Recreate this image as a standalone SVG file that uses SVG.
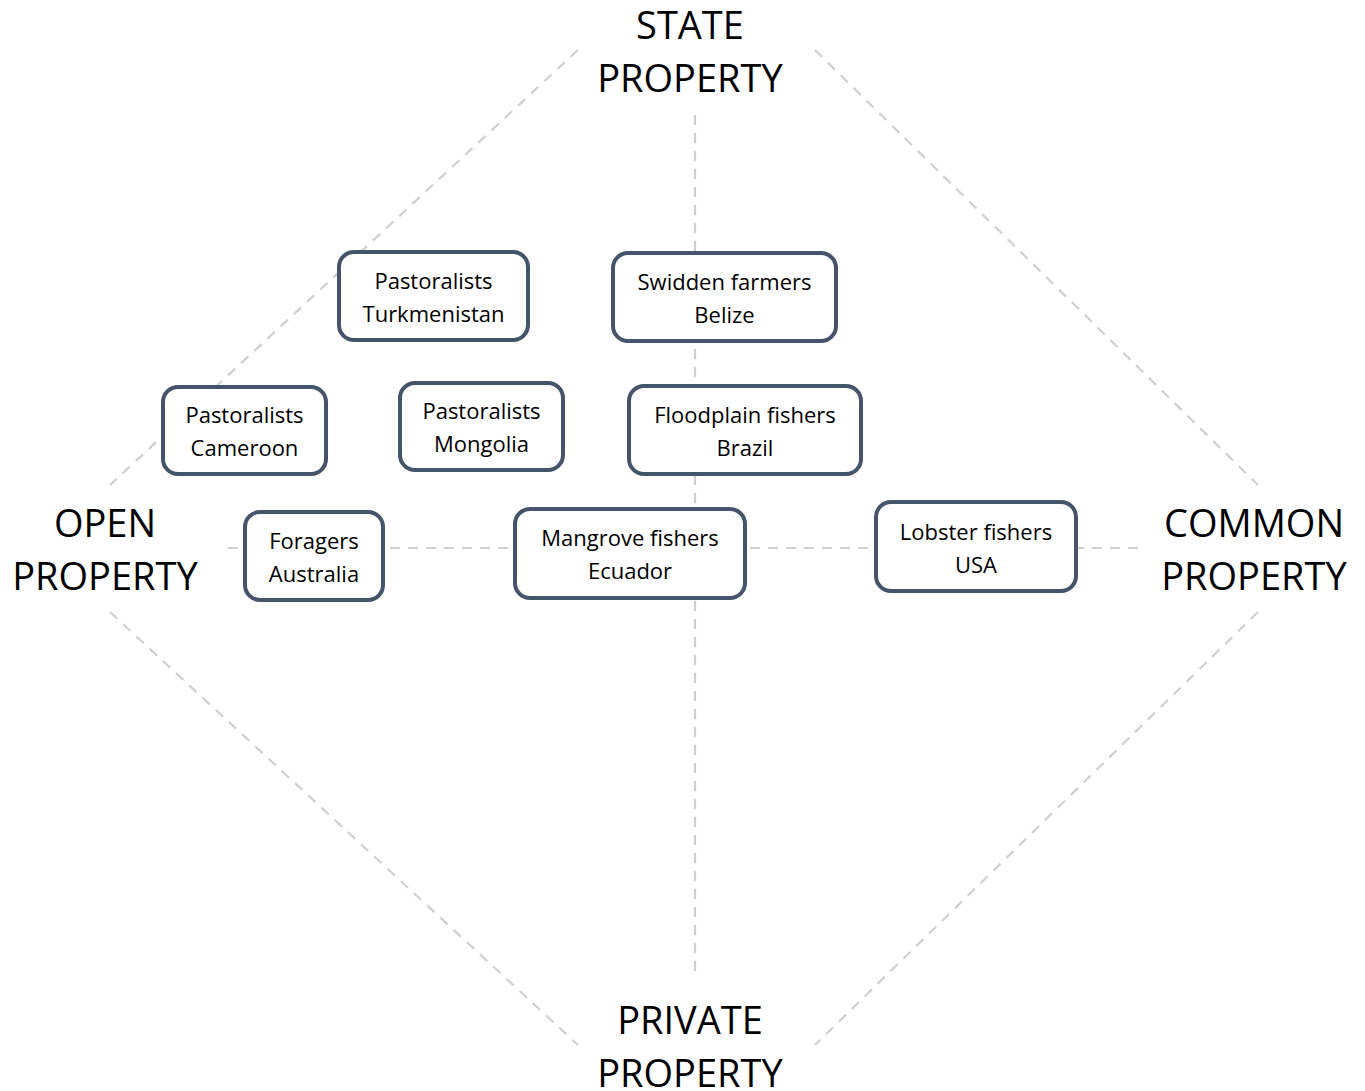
<svg xmlns="http://www.w3.org/2000/svg" width="1365" height="1091" viewBox="0 0 1365 1091">
<style>
.ln{stroke:#D0D0D0;stroke-width:2.2;stroke-dasharray:10 8;fill:none}
.bx{fill:#FFFFFF;stroke:#44546A;stroke-width:4}
.nt{font-family:"Open Sans","Noto Sans",sans-serif;font-size:22px;fill:#000;text-anchor:middle}
.lb{font-family:"Open Sans","Noto Sans",sans-serif;font-size:38px;fill:#000;text-anchor:middle}
</style>
<rect x="0" y="0" width="1365" height="1091" fill="#FFFFFF"/>
<g id="connectors">
<line class="ln" x1="695" y1="115" x2="695" y2="978"/>
<line class="ln" x1="228" y1="548" x2="1142" y2="548"/>
<line class="ln" x1="578" y1="50" x2="110" y2="485"/>
<line class="ln" x1="815" y1="50" x2="1258" y2="485"/>
<line class="ln" x1="110" y1="612" x2="578" y2="1045"/>
<line class="ln" x1="1258" y1="612" x2="815" y2="1045"/>
</g>
<g id="label-state">
<text class="lb" x="690" y="39">STATE</text>
<text class="lb" x="690" y="92">PROPERTY</text>
</g>
<g id="label-open">
<text class="lb" x="105" y="537">OPEN</text>
<text class="lb" x="105" y="590">PROPERTY</text>
</g>
<g id="label-common">
<text class="lb" x="1254" y="537">COMMON</text>
<text class="lb" x="1254" y="590">PROPERTY</text>
</g>
<g id="label-private">
<text class="lb" x="690" y="1034">PRIVATE</text>
<text class="lb" x="690" y="1087">PROPERTY</text>
</g>
<g id="node-turkmenistan">
<rect class="bx" x="339" y="252" width="189" height="88" rx="15"/>
<text class="nt" x="433.5" y="288.5">Pastoralists</text>
<text class="nt" x="433.5" y="321.5">Turkmenistan</text>
</g>
<g id="node-belize">
<rect class="bx" x="613" y="253" width="223" height="88" rx="15"/>
<text class="nt" x="724.5" y="289.5">Swidden farmers</text>
<text class="nt" x="724.5" y="322.5">Belize</text>
</g>
<g id="node-cameroon">
<rect class="bx" x="163" y="387" width="163" height="87" rx="15"/>
<text class="nt" x="244.5" y="423">Pastoralists</text>
<text class="nt" x="244.5" y="456">Cameroon</text>
</g>
<g id="node-mongolia">
<rect class="bx" x="400" y="383" width="163" height="87" rx="15"/>
<text class="nt" x="481.5" y="419">Pastoralists</text>
<text class="nt" x="481.5" y="452">Mongolia</text>
</g>
<g id="node-brazil">
<rect class="bx" x="629" y="386" width="232" height="88" rx="15"/>
<text class="nt" x="745" y="423">Floodplain fishers</text>
<text class="nt" x="745" y="456">Brazil</text>
</g>
<g id="node-australia">
<rect class="bx" x="245" y="512" width="138" height="88" rx="15"/>
<text class="nt" x="314" y="548.5">Foragers</text>
<text class="nt" x="314" y="581.5">Australia</text>
</g>
<g id="node-ecuador">
<rect class="bx" x="515" y="509" width="230" height="89" rx="15"/>
<text class="nt" x="630" y="545.5">Mangrove fishers</text>
<text class="nt" x="630" y="578.5">Ecuador</text>
</g>
<g id="node-usa">
<rect class="bx" x="876" y="502" width="200" height="89" rx="15"/>
<text class="nt" x="976" y="539.5">Lobster fishers</text>
<text class="nt" x="976" y="572.5">USA</text>
</g>
</svg>
